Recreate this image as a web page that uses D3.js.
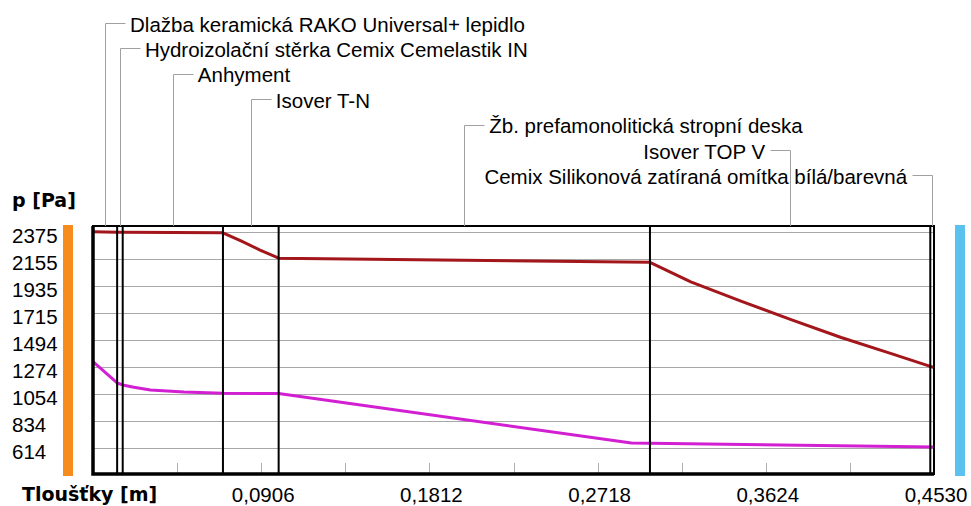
<!DOCTYPE html>
<meta charset="utf-8">
<style>

    body {
        margin: 0;
        background-color: #ffffff;
    }

    text {
        font-family: "Liberation Sans", Arial, sans-serif;
        font-size: 20.5px;
        fill: #000;
    }

    text.title {
        font-family: "DejaVu Sans", Verdana, sans-serif;
        font-weight: bold;
        font-size: 19px;
    }

    line.grid {
        stroke: #a8a8a8;
        stroke-width: 1;
    }

    line.tick {
        stroke: #b0b0b0;
        stroke-width: 1;
    }

    path.leader {
        fill: none;
        stroke: #a0a0a0;
        stroke-width: 1;
    }

    line.layer {
        stroke: #000;
        stroke-width: 2;
    }

    path.line {
        fill: none;
        stroke-width: 3;
        stroke-linejoin: round;
    }

    path.line.psat {
        stroke: #a3161b;
    }

    path.line.p {
        stroke: #d21fd2;
    }

</style>
<body>
<script src="https://cdnjs.cloudflare.com/ajax/libs/d3/7.8.5/d3.min.js"></script>
<script>

    // layers of the construction, inside -> outside
    var layerNames = [
        "Dlažba keramická RAKO Universal+ lepidlo",
        "Hydroizolační stěrka Cemix Cemelastik IN",
        "Anhyment",
        "Isover T-N",
        "Žb. prefamonolitická stropní deska",
        "Isover TOP V",
        "Cemix Silikonová zatíraná omítka bílá/barevná"
    ];
    var layerEdges = [0, 0.013, 0.016, 0.070, 0.100, 0.300, 0.451, 0.453];
    var labelSide = ["left", "left", "left", "left", "left", "right", "right"];

    // saturated vapour pressure (red) and partial vapour pressure (magenta)
    var psatX = [0, 0.013, 0.016, 0.070, 0.080, 0.090, 0.100, 0.300, 0.322, 0.349, 0.376, 0.403, 0.430, 0.451, 0.453];
    var psatY = [2378, 2374, 2373, 2368, 2300, 2228, 2162, 2128, 1968, 1812, 1660, 1515, 1383, 1280, 1270];

    var pX = [0, 0.013, 0.016, 0.022, 0.031, 0.049, 0.070, 0.100, 0.290, 0.300, 0.453];
    var pY = [1318, 1144, 1128, 1110, 1087, 1070, 1060, 1058, 655, 652, 622];

    var yTicks = [2375, 2155, 1935, 1715, 1494, 1274, 1054, 834, 614];
    var xMinorTicks = [0.0453, 0.0906, 0.1359, 0.1812, 0.2265, 0.2718, 0.3171, 0.3624, 0.4077];
    var xLabelTicks = [0.0906, 0.1812, 0.2718, 0.3624, 0.4530];
    var xLabels = ["0,0906", "0,1812", "0,2718", "0,3624", "0,4530"];

    var width = 971,
        height = 506,
        plot = {left: 93, right: 934, top: 226, bottom: 474};

    var x = d3.scaleLinear()
            .domain([0, 0.453])
            .range([plot.left, plot.right]);

    var y = d3.scaleLinear()
            .domain([402, 2424])
            .range([plot.bottom, plot.top]);

    var svg = d3.select("body").append("svg")
            .attr("width", width)
            .attr("height", height);

    // side colour bars
    svg.append("rect")
            .attr("x", 63).attr("y", 225)
            .attr("width", 10).attr("height", 251)
            .attr("fill", "#f68c1e");

    svg.append("rect")
            .attr("x", 955).attr("y", 225)
            .attr("width", 10).attr("height", 251)
            .attr("fill", "#5bc1ef");

    // grid
    svg.append("g").selectAll("line")
            .data(yTicks)
        .enter().append("line")
            .attr("class", "grid")
            .attr("x1", plot.left).attr("x2", plot.right)
            .attr("y1", function(d) { return Math.round(y(d)) + 0.5; })
            .attr("y2", function(d) { return Math.round(y(d)) + 0.5; });

    svg.append("g").selectAll("line")
            .data(xMinorTicks)
        .enter().append("line")
            .attr("class", "tick")
            .attr("x1", function(d) { return Math.round(x(d)) + 0.5; })
            .attr("x2", function(d) { return Math.round(x(d)) + 0.5; })
            .attr("y1", plot.bottom - 11)
            .attr("y2", plot.bottom);

    // y labels (left aligned)
    svg.append("g").selectAll("text")
            .data(yTicks)
        .enter().append("text")
            .attr("x", 12)
            .attr("y", function(d) { return y(d) + 11; })
            .text(function(d) { return d; });

    // x labels
    svg.append("g").selectAll("text")
            .data(xLabelTicks)
        .enter().append("text")
            .attr("x", function(d) { return x(d) + 2; })
            .attr("y", 502)
            .style("text-anchor", "middle")
            .text(function(d, i) { return xLabels[i]; });

    svg.append("text")
            .attr("class", "title")
            .attr("x", 12).attr("y", 207)
            .text("p [Pa]");

    svg.append("text")
            .attr("class", "title")
            .attr("x", 22).attr("y", 501)
            .text("Tloušťky [m]");

    // pressure curves
    var line = d3.line()
            .x(function(d) { return x(d[0]); })
            .y(function(d) { return y(d[1]); });

    svg.append("path")
            .attr("class", "line psat")
            .attr("d", line(d3.zip(psatX, psatY)));

    svg.append("path")
            .attr("class", "line p")
            .attr("d", line(d3.zip(pX, pY)));

    // layer boundaries
    svg.append("g").selectAll("line")
            .data(layerEdges.slice(1, -1))
        .enter().append("line")
            .attr("class", "layer")
            .attr("x1", function(d) { return x(d); })
            .attr("x2", function(d) { return x(d); })
            .attr("y1", plot.top).attr("y2", plot.bottom);

    // frame
    svg.append("rect")
            .attr("x", plot.left).attr("y", plot.top)
            .attr("width", plot.right - plot.left)
            .attr("height", plot.bottom - plot.top)
            .attr("fill", "none")
            .attr("stroke", "#000")
            .attr("stroke-width", 2);

    svg.append("path")
            .attr("d", "M" + plot.left + "," + plot.top + "V" + plot.bottom + "H" + plot.right)
            .attr("fill", "none")
            .attr("stroke", "#000")
            .attr("stroke-width", 3.5);

    // layer labels with leaders
    var labels = svg.append("g").selectAll("g")
            .data(layerNames)
        .enter().append("g");

    labels.append("path")
            .attr("class", "leader")
            .attr("d", function(d, i) {
                var lx = Math.round(x((layerEdges[i] + layerEdges[i + 1]) / 2)) + 0.5,
                    ly = Math.round(23 + 25.4 * i) + 0.5,
                    hx = labelSide[i] == "left" ? lx + 20 : lx - 20;
                return "M" + hx + "," + ly + "H" + lx + "V" + plot.top;
            });

    labels.append("text")
            .attr("x", function(d, i) {
                var lx = x((layerEdges[i] + layerEdges[i + 1]) / 2);
                return labelSide[i] == "left" ? lx + 25 : lx - 25;
            })
            .attr("y", function(d, i) { return 23 + 25.4 * i + 8.5; })
            .style("text-anchor", function(d, i) { return labelSide[i] == "left" ? "start" : "end"; })
            .text(function(d) { return d; });

</script>
